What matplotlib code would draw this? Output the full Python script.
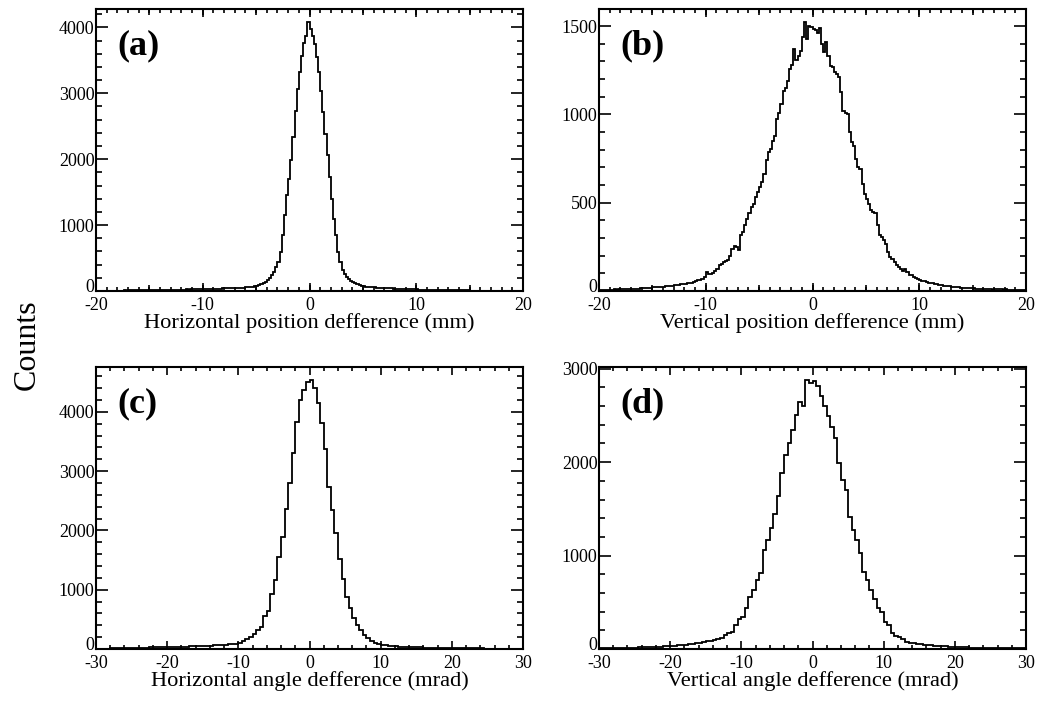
import numpy as np
import matplotlib
matplotlib.use("Agg")
import matplotlib.pyplot as plt
import matplotlib.transforms as mtransforms
from matplotlib.ticker import MultipleLocator

plt.rcParams['font.family'] = ['Liberation Serif', 'DejaVu Serif']
plt.rcParams['axes.unicode_minus'] = False

# (a) horizontal position difference, 200 bins from -20 to 20 mm
hpos_counts = [
    3, 4, 3, 5, 4, 5, 4, 6, 5, 6,
    6, 7, 6, 8, 7, 8, 9, 8, 9, 10,
    10, 11, 10, 12, 11, 13, 12, 14, 13, 15,
    15, 16, 15, 17, 18, 17, 19, 18, 20, 21,
    20, 22, 23, 22, 24, 25, 24, 26, 27, 28,
    28, 30, 29, 31, 33, 32, 34, 36, 35, 38,
    40, 39, 42, 44, 43, 46, 48, 47, 50, 52,
    55, 58, 62, 68, 76,
    81, 91, 106, 116, 141, 166, 192, 242, 292, 368,
    444, 595, 847, 1150, 1452, 1704, 1982, 2335, 2738, 3066,
    3318, 3570, 3762, 3873, 4075,
    3974, 3873, 3747, 3545, 3318, 3041, 2713, 2385, 2058, 1730,
    1402, 1099, 847, 595, 444, 318, 252, 217, 181, 151,
    131, 116, 101, 91, 81, 72, 68, 64, 60, 58,
    55, 52, 50, 48, 46, 44, 42, 40, 39, 37,
    35, 34, 32, 31, 30, 28, 27, 26, 25, 24,
    23, 22, 21, 20, 19, 19, 18, 17, 16, 16,
    15, 14, 14, 13, 12, 12, 11, 11, 10, 10,
    9, 9, 8, 8, 8, 7, 7, 7, 6, 6,
    6, 5, 5, 5, 5, 4, 4, 4, 4, 4,
    3, 4, 3, 3, 3, 3, 2, 3, 2, 2,
]

# (b) vertical position difference, 200 bins from -20 to 20 mm
vpos_counts = [
    4, 6, 5, 7, 6, 8, 7, 9, 8, 10,
    9, 11, 10, 12, 11, 13, 12, 14, 13, 15,
    16, 15, 17, 19, 18, 20, 22, 21, 23, 25,
    24, 27, 29, 28, 31, 33, 32, 36, 38, 40,
    42, 45, 44, 48, 52, 55, 60, 64, 70, 79,
    107, 96, 98, 100, 112, 122, 145, 152, 164,
    170, 176, 198, 239, 254, 250, 232, 315, 335, 371,
    409, 440, 475, 494, 530, 560, 590, 616, 663, 740,
    786, 805, 850, 880, 975, 1010, 1059, 1135, 1150, 1191,
    1257, 1280, 1370, 1310, 1333, 1361, 1436, 1521, 1427, 1502,
    1493,
    1484, 1478, 1462, 1490, 1400, 1352, 1408, 1333, 1276, 1267,
    1238, 1229, 1210, 1125, 1022, 1010, 1005, 899, 843, 824,
    748, 701, 692, 607, 550, 522, 494, 456, 447, 440,
    371, 319, 305, 286, 268, 220, 192, 183, 164, 149,
    136, 126, 111, 126, 107, 92, 89, 79, 72, 68,
    62, 58, 55, 53, 48, 46, 45, 42, 37, 35,
    33, 31, 28, 30, 26, 25, 22, 21, 20, 19,
    19, 17, 18, 16, 15, 16, 13, 12, 14, 12,
    11, 9, 10, 9, 8, 10, 11, 10, 9, 8,
    9, 8, 7, 8, 7, 6, 7, 6, 5, 5,
]

# (c) horizontal angle difference, 120 bins from -30 to 30 mrad
hang_counts = [
    5, 6, 7, 8, 9, 10, 12, 13, 14, 15,
    17, 19, 21, 23, 25, 27, 29, 31, 33, 35,
    36, 37, 38, 40, 41, 42, 43, 44, 45, 46,
    48, 52, 56, 60, 64, 68, 72, 78, 84, 92,
    106, 143, 175, 200, 250,
    320, 370, 550, 634, 931,
    1167, 1548, 1896, 2356, 2805,
    3299, 3832, 4208, 4364, 4510,
    4530, 4394, 4152, 3804, 3366,
    2738, 2345, 1952, 1515, 1184,
    875, 690, 521, 409, 314,
    241, 185, 140, 100, 84,
    72, 62, 55, 50, 45, 42, 38, 35, 32, 30,
    28, 26, 24, 22, 21, 20, 18, 17, 16, 15,
    14, 13, 12, 12, 11, 10, 10, 9, 9, 8,
    8, 7, 7, 6, 6, 6, 5, 5, 5, 4,
]

# (d) vertical angle difference, 120 bins from -30 to 30 mrad
vang_counts = [
    8, 10, 9, 12, 11, 13, 12, 14, 15, 14,
    16, 18, 17, 20, 22, 21, 24, 26, 28, 30,
    33, 36, 38, 42, 46, 50, 55, 60, 66, 72,
    82, 89, 96, 104, 114,
    150, 168, 186, 257, 318,
    346, 436, 561, 632, 739,
    811, 1061, 1168, 1293, 1443,
    1643, 1882, 2079, 2204, 2346,
    2500, 2640, 2600, 2875, 2850,
    2864, 2811, 2704, 2596, 2489,
    2375, 2257, 1989, 1804, 1704,
    1418, 1275, 1168, 1025, 829,
    739, 632, 532, 436, 393,
    286, 257, 168, 143, 125,
    104, 79, 68, 61, 54,
    50, 46, 42, 38, 35, 32, 30, 28, 25, 24,
    22, 20, 19, 17, 16, 15, 14, 12, 12, 11,
    10, 10, 9, 8, 9, 8, 7, 7, 6, 6,
]

panel_labels = ["(a)", "(b)", "(c)", "(d)"]
x_titles = ["Horizontal position defference (mm)",
            "Vertical position defference (mm)",
            "Horizontal angle defference (mrad)",
            "Vertical angle defference (mrad)"]


def draw_panel(fig, ax, counts, lo, hi, ymajor, xminor, label, xtitle):
    counts = np.asarray(counts, dtype=float)
    edges = np.linspace(lo, hi, len(counts) + 1)
    ax.stairs(counts, edges, color="black", linewidth=1.3, baseline=None)
    ax.set_xlim(lo, hi)
    ax.set_ylim(0, counts.max() * 1.05)
    ax.xaxis.set_major_locator(MultipleLocator(10))
    ax.xaxis.set_minor_locator(MultipleLocator(xminor))
    ax.yaxis.set_major_locator(MultipleLocator(ymajor))
    ax.yaxis.set_minor_locator(MultipleLocator(ymajor / 5))
    ax.tick_params(which="both", direction="in", top=True, right=True,
                   labelsize=13, width=1.2)
    ax.tick_params(axis="y", which="major", length=8.5, pad=1)
    ax.tick_params(axis="y", which="minor", length=4.2)
    ax.tick_params(axis="x", which="major", length=6, pad=4.5)
    ax.tick_params(axis="x", which="minor", length=2.6)
    for sp in ax.spines.values():
        sp.set_linewidth(1.5)
    # medium ticks at the half divisions (ROOT style)
    if xminor == 1:
        for side in ("bottom", "top"):
            sec = ax.secondary_xaxis(side)
            sec.xaxis.set_major_locator(MultipleLocator(5))
            sec.tick_params(direction="in", length=4.2, width=1.2,
                            labelbottom=False, labeltop=False)
            sec.spines[side].set_visible(False)
    # lift the "0" label a little so it sits above the x labels
    lift = mtransforms.ScaledTranslation(0, 4 / 72, fig.dpi_scale_trans)
    for loc, lbl in zip(ax.get_yticks(), ax.get_yticklabels()):
        if loc == 0:
            lbl.set_transform(lbl.get_transform() + lift)
    ax.set_xlabel(xtitle, fontsize=16.2, labelpad=-1)
    ax.text(0.05, 0.87, label, transform=ax.transAxes, fontsize=26,
            fontweight="bold", ha="left", va="center")


fig = plt.figure(figsize=(10.4, 7.1), dpi=100)
w, h = 427 / 1040, 282 / 710
ax_a = fig.add_axes([96 / 1040, 1 - 291 / 710, w, h])
ax_b = fig.add_axes([599 / 1040, 1 - 291 / 710, w, h])
ax_c = fig.add_axes([96 / 1040, 1 - 649 / 710, w, h])
ax_d = fig.add_axes([599 / 1040, 1 - 649 / 710, w, h])

draw_panel(fig, ax_a, hpos_counts, -20, 20, 1000, 1, panel_labels[0], x_titles[0])
draw_panel(fig, ax_b, vpos_counts, -20, 20, 500, 1, panel_labels[1], x_titles[1])
draw_panel(fig, ax_c, hang_counts, -30, 30, 1000, 2, panel_labels[2], x_titles[2])
draw_panel(fig, ax_d, vang_counts, -30, 30, 1000, 2, panel_labels[3], x_titles[3])

fig.text(0.026, 0.515, "Counts", rotation=90, fontsize=23,
         ha="center", va="center")

fig.savefig("out.png", dpi=100)
